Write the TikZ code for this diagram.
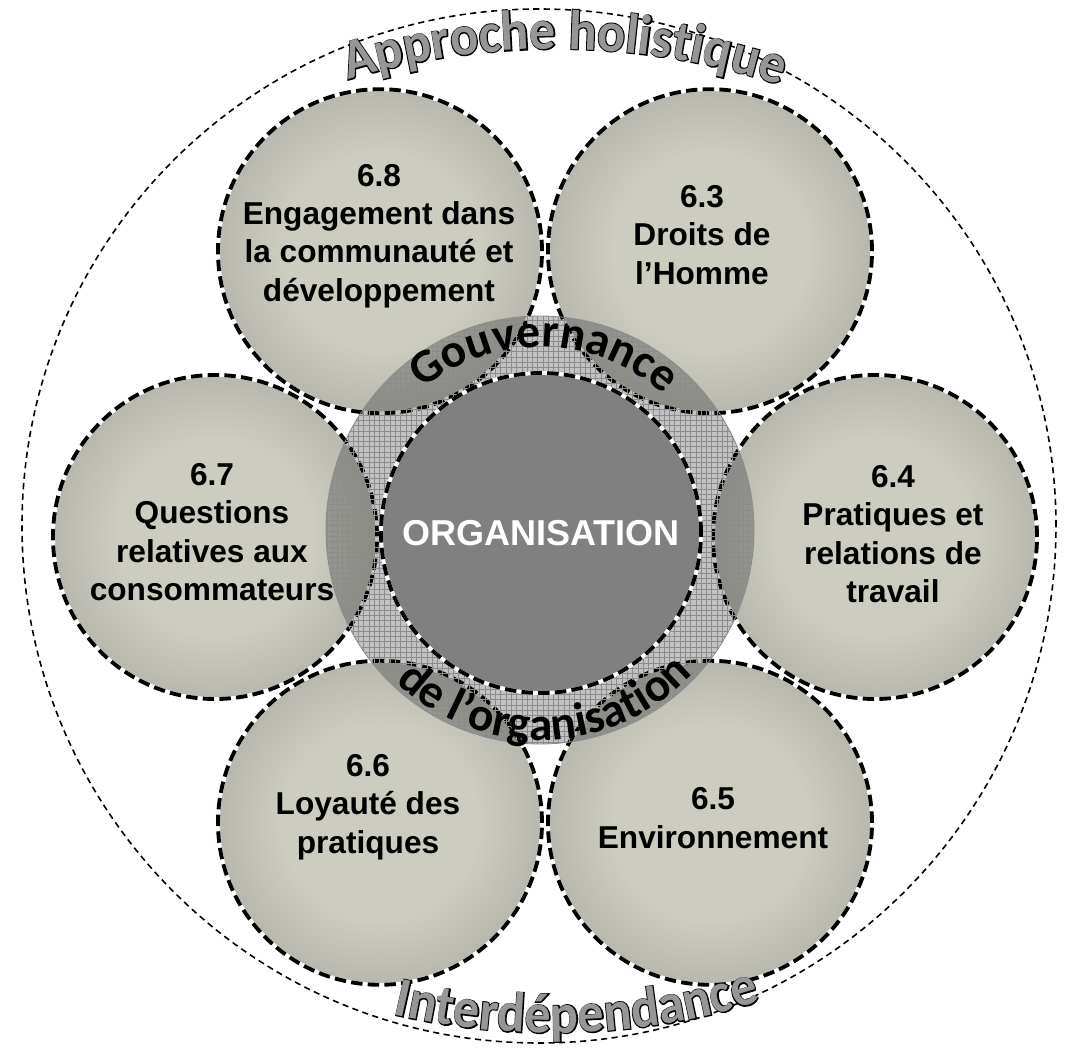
\documentclass[tikz,border=0pt]{standalone}
\usepackage{fontspec}
\setmainfont{Liberation Sans}
\newfontfamily\arcfont{Carlito}
\newfontfamily\arcwide{Carlito}[BoldFeatures={FakeStretch=0.93}]
\newfontfamily\arcedge{Carlito}[BoldFeatures={FakeStretch=0.93, FakeBold=3.5}]
\usetikzlibrary{patterns, decorations.text}

\definecolor{topiclight}{RGB}{205,204,192}
\definecolor{topicmid}{RGB}{172,171,164}
\definecolor{topicshadow}{RGB}{142,142,140}
\definecolor{topicdark}{RGB}{118,118,116}
\definecolor{coregray}{RGB}{128,128,128}
\definecolor{wordgray}{RGB}{150,150,150}

\pgfdeclareradialshading{topicshade}{\pgfpoint{0bp}{0bp}}{color(0bp)=(topiclight); color(15bp)=(topiclight); color(31bp)=(topicmid); color(43bp)=(topicshadow); color(50bp)=(topicdark)}

\begin{document}
\begin{tikzpicture}[
    % Styles for the circles
    rim/.style={circle, draw=black, line width=0.9pt, dash pattern=on 3.5pt off 2.5pt, minimum size=20.68cm, inner sep=0pt},
    topic/.style={circle, minimum size=6.48cm, inner sep=0pt, shading=topicshade, draw=white, line width=2.2pt, postaction={draw=black, dash pattern=on 6.5pt off 3pt}},
    ring/.style={circle, minimum size=8.56cm, inner sep=0pt, draw=black!45, line width=0.5pt, fill=black, fill opacity=0.24, postaction={pattern=grid, pattern color=black!45, fill opacity=0.25}},
    core/.style={circle, minimum size=6.4cm, inner sep=0pt, fill=coregray, draw=white, line width=2.2pt, postaction={draw=black, dash pattern=on 6.5pt off 3pt}, text=white, font=\fontsize{20.5}{24}\selectfont\bfseries},
    % Styles for the texts
    topictext/.style={align=center, font=\fontsize{18}{21.8}\selectfont\bfseries},
    arcword/.style={decorate, decoration={text along path, text align=center, text={#1}}}
]
    \useasboundingbox (-10.84,-10.4) rectangle (10.48,10.66);

    % Outer dashed circle
    \node (rim) [rim] at (-0.06,0.14) {};

    % Six core subjects
    \coordinate (hub) at (0.06,-0.08);
    \node (c64) [topic] at ([shift={(0:6.6)}]hub) {};
    \node (c63) [topic] at ([shift={(60:6.6)}]hub) {};
    \node (c68) [topic] at ([shift={(120:6.6)}]hub) {};
    \node (c67) [topic] at ([shift={(180:6.6)}]hub) {};
    \node (c66) [topic] at ([shift={(240:6.6)}]hub) {};
    \node (c65) [topic] at ([shift={(300:6.6)}]hub) {};

    % Outlined words along the rim
    \coordinate (arctop) at (0.28,-4.54);
    \coordinate (arcbottom) at (0.22,3.96);
    \path [arcword={|\arcedge\bfseries\fontsize{32}{36}\selectfont\color{black}|Approche holistique}]
        (arctop) ++(129.3:14.22) arc[start angle=129.3, end angle=49.3, radius=14.22];
    \path [arcword={|\arcwide\bfseries\fontsize{32}{36}\selectfont\color{wordgray}|Approche holistique}]
        (arctop) ++(129.3:14.22) arc[start angle=129.3, end angle=49.3, radius=14.22];
    \path [arcword={|\arcedge\bfseries\fontsize{32}{36}\selectfont\color{black}|Interdépendance}]
        (arcbottom) ++(237:13.96) arc[start angle=237, end angle=307, radius=13.96];
    \path [arcword={|\arcwide\bfseries\fontsize{32}{36}\selectfont\color{wordgray}|Interdépendance}]
        (arcbottom) ++(237:13.96) arc[start angle=237, end angle=307, radius=13.96];

    % Governance ring
    \node (ring) [ring] at (-0.04,0.06) {};

    \node (t68) [topictext] at (-3.26,5.94) {6.8\\Engagement dans\\la communauté et\\développement};
    \node (t63) [topictext] at (3.2,5.96) {6.3\\Droits de\\l’Homme};
    \node (t67) [topictext] at (-6.6,0.02) {6.7\\Questions\\relatives aux\\consommateurs};
    \node (t64) [topictext] at (7.02,-0.02) {6.4\\Pratiques et\\relations de\\travail};
    \node (t66) [topictext] at (-3.48,-5.48) {6.6\\Loyauté des\\pratiques};
    \node (t65) [topictext] at (3.42,-5.7) {6.5\\Environnement};

    % Organisation in the middle
    \node (core) [core] at (-0.02,0) {ORGANISATION};

    \path [arcword={|\arcfont\bfseries\fontsize{27}{30}\selectfont|Gouvernance}]
        (ring.center) ++(148.5:3.66) arc[start angle=148.5, end angle=28.5, radius=3.66];
    \path [arcword={|\arcfont\bfseries\fontsize{27}{30}\selectfont|de l’organisation}]
        (ring.center) ++(211.6:4.2) arc[start angle=211.6, end angle=331.6, radius=4.2];

\end{tikzpicture}
\end{document}
